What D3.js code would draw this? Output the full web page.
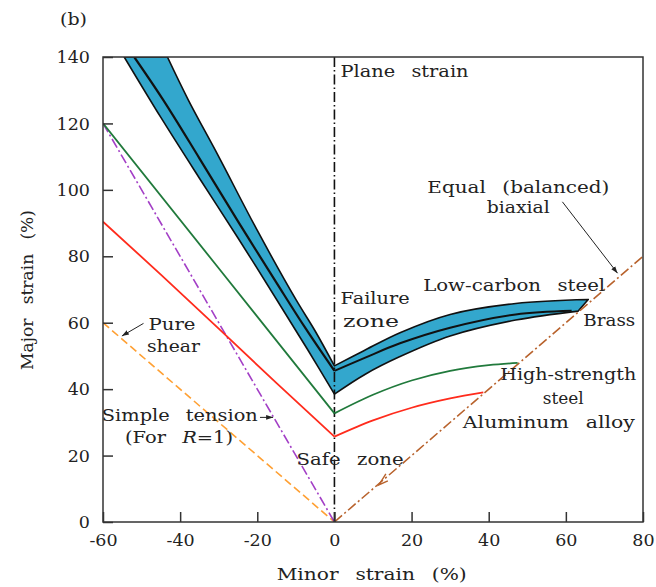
<!DOCTYPE html>
<html><head><meta charset="utf-8">
<script src="https://cdn.jsdelivr.net/npm/d3@7"></script>
<style>
html,body{margin:0;padding:0;background:#fff;}
svg text{font-family:"DejaVu Serif","Liberation Serif",serif;fill:#222;}
</style></head>
<body><svg id="c" width="656" height="587"></svg>
<script>
// ---------- data ----------
const xTicks = [-60,-40,-20,0,20,40,60,80];
const yTicks = [0,20,40,60,80,100,120,140];

// Low-carbon steel band (left & right branches)
const bandLowerLeft  = [[-54.5,140],[-45,121.8],[-35,103.5],[-25,85.5],[-15,67],[-7,52],[0,38.5]];
const bandUpperLeft  = [[-43.3,140],[-37.9,127.1],[-30,110],[-20.1,88],[-10,67],[-5,57.5],[0,47]];
const bandLowerRight = [[0,38.5],[8,44.5],[17,49.8],[30,56],[47,60.8],[63.2,63.5]];
const bandUpperRight = [[0,47],[7.5,51.5],[17,57],[30,62.5],[47,65.8],[65.8,67]];
// Brass centre line
const brassLeft  = [[-51.9,140],[-44.4,127.1],[-35,109.5],[-25,90.5],[-15,72],[-7.6,58.5],[0,45.5]];
const brassRight = [[0,45.5],[8,49.5],[17,53.8],[30,58.5],[47,62.5],[61.5,63.6]];
// High-strength steel
const hssLeft  = [[-60,120],[-30,76.4],[0,32.7]];
const hssRight = [[0,32.7],[10,38.3],[20,42.6],[30,45.5],[40,47.2],[47.5,47.9]];
// Aluminum alloy
const alLeft  = [[-60,90.4],[-45,74.5],[-30,58.2],[-15,41.8],[0,25.7]];
const alRight = [[0,25.7],[10,30.6],[20,34.4],[30,37.2],[38.6,39]];
// Strain paths
const pureShear     = [[-60,60],[0,0]];
const simpleTension = [[-60,120],[0,0]];
const planeStrain   = [[0,0],[0,140]];
const equalBiaxial  = [[0,0],[80,80]];

// labels: [text, x, y, width(px)]
const labels = [
  ["Plane strain", 1.6, 134, 128],
  ["Equal (balanced)", 24.1, 99.2, 182],
  ["biaxial", 39.5, 93.0, 63],
  ["Low-carbon steel", 23.0, 69.6, 182],
  ["Failure", 1.6, 65.6, 69],
  ["zone", 2.2, 58.8, 56],
  ["Brass", 64.5, 59.0, 52],
  ["High-strength", 43.0, 42.7, 136],
  ["steel", 54.0, 35.6, 41],
  ["Aluminum alloy", 33.3, 28.2, 172],
  ["Safe zone", -9.8, 17.2, 107],
  ["Pure", -48.2, 57.8, 47],
  ["shear", -48.6, 51.3, 53],
  ["Simple tension", -60.3, 30.5, 156]
];
// annotation arrows: [x1,y1,x2,y2]
const arrows = [
  [59.1, 96.4, 73.4, 74.9],   // equal biaxial
  [-49.5, 59.8, -55.1, 56.0], // pure shear
  [-19.3, 31.5, -15.9, 31.5]  // simple tension
];

// ---------- drawing ----------
const svg = d3.select("#c");
const x = d3.scaleLinear().domain([-60,80]).range([103,643]);
const y = d3.scaleLinear().domain([0,140]).range([522,57]);

const defs = svg.append("defs");
defs.append("clipPath").attr("id","clip")
  .append("rect").attr("x",103).attr("y",57).attr("width",540).attr("height",465);
defs.append("marker").attr("id","ah").attr("viewBox","0 0 10 10").attr("refX",10).attr("refY",5)
  .attr("markerWidth",7).attr("markerHeight",7).attr("orient","auto-start-reverse")
  .append("path").attr("d","M0,1.5L10,5L0,8.5Z").attr("fill","#222");

const g = svg.append("g").attr("clip-path","url(#clip)");
const lineL = d3.line().x(d=>x(d[0])).y(d=>y(d[1]));
const lineC = d3.line().x(d=>x(d[0])).y(d=>y(d[1])).curve(d3.curveCatmullRom.alpha(0.5));

// band polygon
function seg(pts){ return lineC(pts); }
const bandPath = seg(bandLowerLeft) + seg(bandLowerRight).replace(/^M/,"L")
  + seg(bandUpperRight.slice().reverse()).replace(/^M/,"L")
  + seg(bandUpperLeft.slice().reverse()).replace(/^M/,"L") + "Z";
g.append("path").attr("d",bandPath).attr("fill","#33a7cd").attr("stroke","#111")
  .attr("stroke-width",1.6).attr("stroke-linejoin","round");

// strain paths
g.append("path").attr("d",lineL(pureShear)).attr("fill","none").attr("stroke","#ffa033")
  .attr("stroke-width",1.6).attr("stroke-dasharray","8,4");
g.append("path").attr("d",lineL(simpleTension)).attr("fill","none").attr("stroke","#a33fc6")
  .attr("stroke-width",1.6).attr("stroke-dasharray","10,3,2,3");
g.append("path").attr("d",lineL(equalBiaxial)).attr("fill","none").attr("stroke","#b8622c")
  .attr("stroke-width",1.6).attr("stroke-dasharray","10,3,2,3");
g.append("path").attr("d",lineL(planeStrain)).attr("fill","none").attr("stroke","#111")
  .attr("stroke-width",1.6).attr("stroke-dasharray","10,3,1.5,3");

// FLCs
const flc = [
  [alLeft, "#ff2b1c", 1.8, false], [alRight, "#ff2b1c", 1.8, true],
  [hssLeft, "#217a3c", 1.8, false], [hssRight, "#217a3c", 1.8, true],
  [brassLeft, "#111", 2.2, true], [brassRight, "#111", 2.0, true]
];
flc.forEach(([pts,col,w,curved])=>{
  g.append("path").attr("d",(curved?lineC:lineL)(pts)).attr("fill","none")
    .attr("stroke",col).attr("stroke-width",w).attr("stroke-linejoin","round");
});

// small arrowhead on equal biaxial path
const ap = [x(12.3), y(12.1)];
svg.append("path").attr("d",`M${ap[0]+4},${ap[1]-8}L${ap[0]-3},${ap[1]+3}L${ap[0]+6},${ap[1]-1}`)
  .attr("fill","none").attr("stroke","#b8622c").attr("stroke-width",1.4);

// axes
const fmt = d => String(d);
const ax = svg.append("g").attr("transform","translate(0,522)")
  .call(d3.axisBottom(x).tickValues(xTicks).tickFormat(fmt).tickSizeInner(-10).tickSizeOuter(0).tickPadding(12));
const ay = svg.append("g").attr("transform","translate(103,0)")
  .call(d3.axisLeft(y).tickValues(yTicks).tickFormat(fmt).tickSizeInner(-10).tickSizeOuter(0).tickPadding(13));
[ax,ay].forEach(a=>{
  a.select(".domain").remove();
  a.selectAll(".tick line").attr("stroke","#333").attr("stroke-width",1.5);
  a.selectAll(".tick text").attr("font-size",17.5).attr("fill","#222")
    .style("font-family","'DejaVu Serif',serif");
});
svg.append("rect").attr("x",103).attr("y",57).attr("width",540).attr("height",465)
  .attr("fill","none").attr("stroke","#333").attr("stroke-width",1.5);

// labels
const fs = 17.5;
labels.forEach(([t,lx,ly,w])=>{
  svg.append("text").attr("x",x(lx)).attr("y",y(ly)).attr("font-size",fs)
    .attr("word-spacing","9px")
    .attr("textLength",w).attr("lengthAdjust","spacingAndGlyphs").text(t);
});
const ft = svg.append("text").attr("x",125).attr("y",442.7).attr("font-size",fs)
  .attr("word-spacing","9px")
  .attr("textLength",108).attr("lengthAdjust","spacingAndGlyphs");
ft.append("tspan").text("(For ");
ft.append("tspan").attr("font-style","italic").text("R");
ft.append("tspan").text("=1)");

svg.append("text").attr("x",60).attr("y",25).attr("font-size",17.5)
  .attr("textLength",27).attr("lengthAdjust","spacingAndGlyphs").text("(b)");

// annotation arrows
arrows.forEach(([x1,y1,x2,y2])=>{
  svg.append("line").attr("x1",x(x1)).attr("y1",y(y1)).attr("x2",x(x2)).attr("y2",y(y2))
    .attr("stroke","#222").attr("stroke-width",1).attr("marker-end","url(#ah)");
});

// axis titles
svg.append("text").attr("x",276.7).attr("y",580).attr("word-spacing","9px")
  .attr("font-size",17.5).attr("textLength",190).attr("lengthAdjust","spacingAndGlyphs").text("Minor strain (%)");
svg.append("text").attr("transform","translate(33,370) rotate(-90)").attr("word-spacing","9px")
  .attr("font-size",17.5).attr("textLength",160).attr("lengthAdjust","spacingAndGlyphs").text("Major strain (%)");
</script></body></html>
